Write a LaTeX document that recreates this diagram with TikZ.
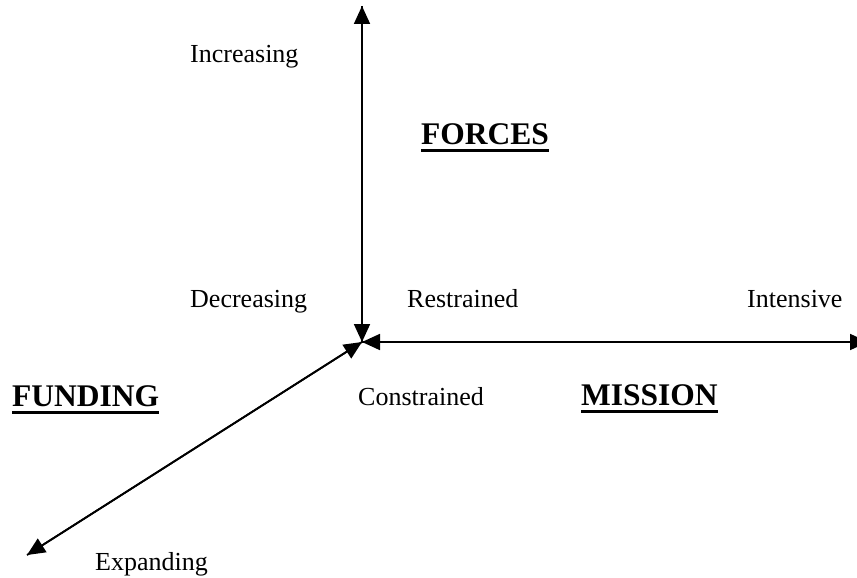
\documentclass[tikz,border=0pt]{standalone}
\usepackage{fontspec}
\setmainfont{Liberation Serif}
\usetikzlibrary{arrows.meta}
\begin{document}
\begin{tikzpicture}[x=1pt,y=-1pt,
  axis/.style={line width=1.8pt,-{Triangle[length=18pt,width=16pt]}},
  lbl/.style={anchor=base west,inner sep=0pt,font=\fontsize{26}{30}\selectfont},
  head/.style={anchor=base west,inner sep=0pt,font=\fontsize{31.5}{36}\selectfont\bfseries},
  uline/.style={line width=3pt}]
\useasboundingbox (0,0) rectangle (857,578);
\clip (0,0) rectangle (857,578);
\coordinate (O) at (362,342);
\coordinate (T) at (362,6);
\coordinate (R) at (868,342);
\coordinate (L) at (27,555);
\draw[axis] (O) -- (T);
\draw[axis] (T) -- (O);
\draw[axis] (O) -- (R);
\draw[axis] (R) -- (O);
\draw[axis] (O) -- (L);
\draw[axis] (L) -- (O);
\node[lbl] (inc) at (190,63) {Increasing};
\node[lbl] (dec) at (190,307) {Decreasing};
\node[lbl] (res) at (407,307) {Restrained};
\node[lbl] (int) at (747,307) {Intensive};
\node[lbl] (con) at (358,405) {Constrained};
\node[lbl] (exp) at (95,570) {Expanding};
\node[head] (forces) at (421,144) {FORCES};
\node[head] (funding) at (12,406) {FUNDING};
\node[head] (mission) at (581,405) {MISSION};
\foreach \n in {forces,funding,mission}
  \draw[uline] ([yshift=-6.5pt]\n.base west) -- ([yshift=-6.5pt]\n.base east);
\end{tikzpicture}
\end{document}
